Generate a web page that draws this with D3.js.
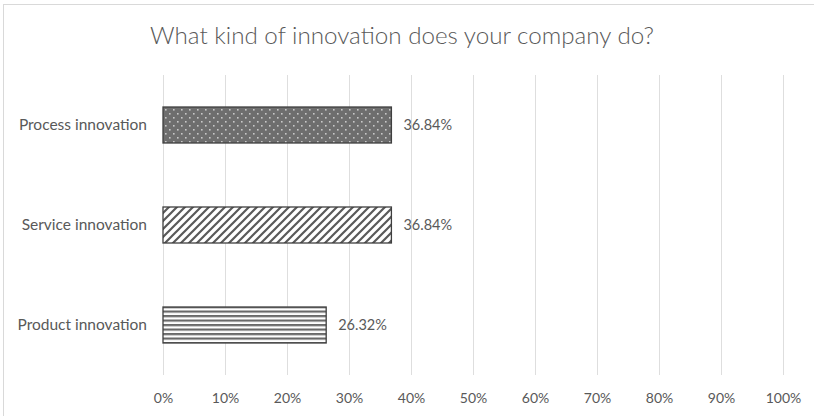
<!DOCTYPE html>
<html>
<head>
<meta charset="utf-8">
<script src="https://cdn.jsdelivr.net/npm/d3@7"></script>
<style>
  html, body { margin: 0; padding: 0; background: #fff; }
  svg { display: block; }
  text { font-family: Lato, "Open Sans", sans-serif; fill: #595959; }
</style>
</head>
<body>
<svg id="chart" width="814" height="416"></svg>
<script>
// Survey answers, top to bottom
const categories = ["Process innovation", "Service innovation", "Product innovation"];
const shares = [36.84, 36.84, 26.32];
const valueLabels = ["36.84%", "36.84%", "26.32%"];
const tickValues = [0, 10, 20, 30, 40, 50, 60, 70, 80, 90, 100];
const titleText = "What kind of innovation does your company do?";

const svg = d3.select("#chart");
const W = 814, H = 416;
const plot = { left: 163, right: 783, top: 75, bottom: 375 };

// outer chart frame (right and bottom edges fall outside the view)
svg.append("rect")
  .attr("x", 3.5).attr("y", 4.5)
  .attr("width", W + 10).attr("height", H + 10)
  .attr("fill", "#fff").attr("stroke", "#d9d9d9").attr("stroke-width", 1);

// fill patterns
const defs = svg.append("defs");

const dots = defs.append("pattern").attr("id", "pat-dots")
  .attr("patternUnits", "userSpaceOnUse").attr("width", 8).attr("height", 8);
dots.append("rect").attr("width", 8).attr("height", 8).attr("fill", "#6e6e6e");
dots.append("rect").attr("x", 1).attr("y", 1).attr("width", 1.6).attr("height", 1.6).attr("fill", "#c8c8c8");
dots.append("rect").attr("x", 5).attr("y", 5).attr("width", 1.6).attr("height", 1.6).attr("fill", "#c8c8c8");

const diag = defs.append("pattern").attr("id", "pat-diag")
  .attr("patternUnits", "userSpaceOnUse").attr("width", 8).attr("height", 8);
diag.append("rect").attr("width", 8).attr("height", 8).attr("fill", "#fff");
diag.append("path").attr("d", "M-2,2 L2,-2 M0,8 L8,0 M6,10 L10,6")
  .attr("stroke", "#595959").attr("stroke-width", 2.2);

const horiz = defs.append("pattern").attr("id", "pat-horiz")
  .attr("patternUnits", "userSpaceOnUse").attr("width", 8).attr("height", 4.5);
horiz.append("rect").attr("width", 8).attr("height", 4.5).attr("fill", "#fff");
horiz.append("rect").attr("y", 0).attr("width", 8).attr("height", 2.2).attr("fill", "#6a6a6a");

const fills = ["url(#pat-dots)", "url(#pat-diag)", "url(#pat-horiz)"];

// scales
const x = d3.scaleLinear().domain([0, 100]).range([plot.left, plot.right]);
const y = d3.scaleBand().domain(categories).range([plot.top, plot.bottom])
  .paddingInner(0.64).paddingOuter(0.32);

// title
svg.append("text")
  .attr("x", 402).attr("y", 44)
  .attr("text-anchor", "middle")
  .style("font-size", "24.2px")
  .style("font-weight", 300)
  .text(titleText);

// vertical gridlines
svg.append("g").selectAll("line").data(tickValues).join("line")
  .attr("x1", d => Math.round(x(d)) + 0.5).attr("x2", d => Math.round(x(d)) + 0.5)
  .attr("y1", plot.top).attr("y2", plot.bottom)
  .attr("stroke", "#dedede").attr("stroke-width", 1);

// x axis tick labels
const xAxis = d3.axisBottom(x).tickValues(tickValues)
  .tickFormat(d => d + "%").tickSize(0).tickPadding(0);
const gx = svg.append("g").attr("transform", `translate(0,${plot.bottom + 18})`).call(xAxis);
gx.select(".domain").remove();
gx.selectAll("text").style("font-size", "14px").style("font-family", null).attr("fill", null);

// category axis
const yAxis = d3.axisLeft(y).tickSize(0).tickPadding(0);
const gy = svg.append("g").attr("transform", `translate(147,0)`).call(yAxis);
gy.select(".domain").remove();
gy.selectAll("text").style("font-size", "15.5px").style("font-family", null).attr("fill", null);

// bars
svg.append("g").selectAll("rect").data(categories).join("rect")
  .attr("x", x(0))
  .attr("y", d => y(d))
  .attr("width", (d, i) => x(shares[i]) - x(0))
  .attr("height", y.bandwidth())
  .attr("fill", (d, i) => fills[i])
  .attr("stroke", "#3f3f3f").attr("stroke-width", 1.3);

// value labels
svg.append("g").selectAll("text").data(categories).join("text")
  .attr("x", (d, i) => x(shares[i]) + 12)
  .attr("y", d => y(d) + y.bandwidth() / 2)
  .attr("dy", "0.35em")
  .style("font-size", "14.5px")
  .text((d, i) => valueLabels[i]);
</script>
</body>
</html>
